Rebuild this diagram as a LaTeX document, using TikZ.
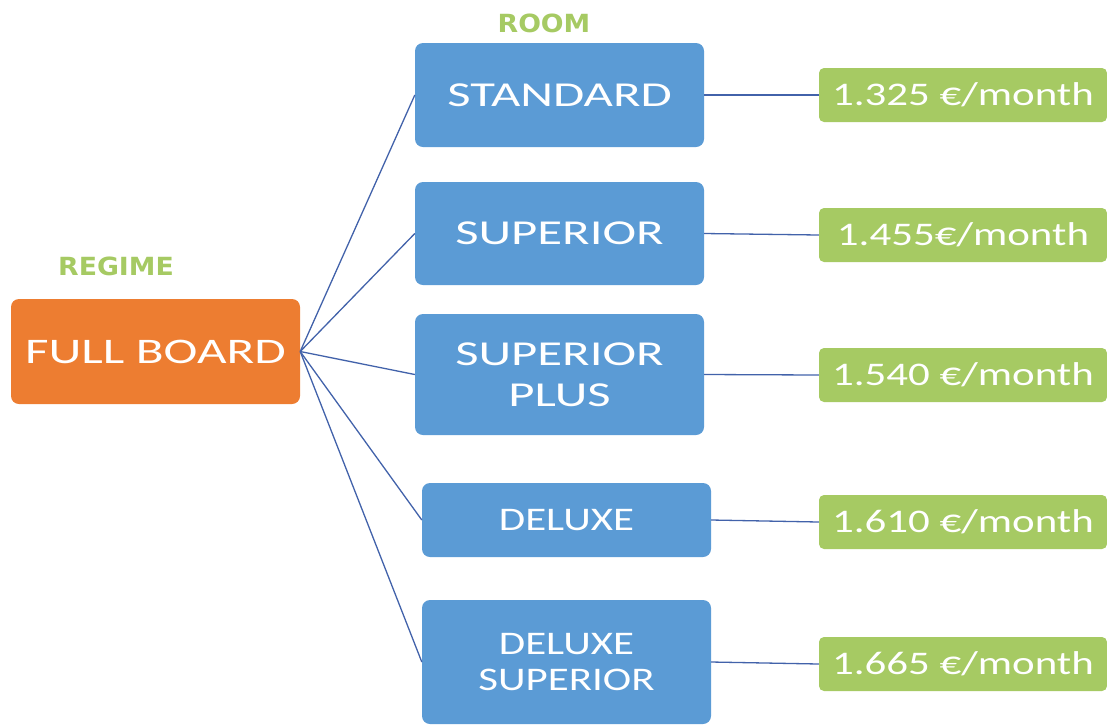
\documentclass[tikz,border=0pt]{standalone}
\usepackage{fontspec}
\setmainfont{Carlito}[FakeStretch=1.3]
\newfontfamily\widefont{Carlito}[FakeStretch=1.45]
\newfontfamily\regimefont{Carlito}[FakeStretch=1.42]
\newfontfamily\labelfont{DejaVu Sans}[FakeStretch=1.07]
\definecolor{cOrange}{HTML}{ED7D31}
\definecolor{cBlue}{HTML}{5B9BD5}
\definecolor{cGreen}{HTML}{A6CA63}
\definecolor{cLine}{HTML}{4262AA}
\begin{document}
\begin{tikzpicture}[x=1pt,y=-1pt,
  boxbase/.style={rounded corners=8pt, inner sep=0pt, text=white, align=center},
  regimebox/.style={boxbase, fill=cOrange, minimum width=289pt, minimum height=105pt, font=\regimefont\fontsize{36}{40}\selectfont},
  roombox/.style={boxbase, fill=cBlue, minimum width=289pt, font=\widefont\fontsize{35}{41}\selectfont},
  deluxebox/.style={boxbase, fill=cBlue, minimum width=289pt, font=\fontsize{33}{36}\selectfont},
  pricebox/.style={boxbase, rounded corners=5pt, fill=cGreen, minimum width=288pt, minimum height=54pt, font=\fontsize{33}{36}\selectfont},
  headlabel/.style={text=cGreen, font=\labelfont\bfseries\fontsize{25}{28}\selectfont, inner sep=0pt},
  link/.style={draw=cLine, line width=1.3pt}
]
\useasboundingbox (0,0) rectangle (1107,724);
\node[headlabel] (lregime) at (116,266) {REGIME};
\node[headlabel] (lroom) at (544,23) {ROOM};
\node[regimebox] (fb) at (155.5,351.5) {FULL BOARD};
\node[roombox, minimum height=104pt] (std) at (559.5,95) {STANDARD};
\node[roombox, minimum height=103pt] (sup) at (559.5,233.5) {SUPERIOR};
\node[roombox, minimum height=121pt] (sp) at (559.5,374.5) {SUPERIOR\\PLUS};
\node[deluxebox, minimum height=74pt] (dlx) at (566.5,520) {DELUXE};
\node[deluxebox, minimum height=124pt] (dsp) at (566.5,662) {DELUXE\\SUPERIOR};
\node[pricebox] (p1) at (963,95) {1.325 €/month};
\node[pricebox] (p2) at (963,235) {1.455€/month};
\node[pricebox] (p3) at (963,375) {1.540 €/month};
\node[pricebox] (p4) at (963,522) {1.610 €/month};
\node[pricebox] (p5) at (963,664) {1.665 €/month};
\foreach \r in {std,sup,sp,dlx,dsp} \draw[link] (fb.east) -- (\r.west);
\draw[link] (std.east) -- (p1.west);
\draw[link] (sup.east) -- (p2.west);
\draw[link] (sp.east) -- (p3.west);
\draw[link] (dlx.east) -- (p4.west);
\draw[link] (dsp.east) -- (p5.west);
\end{tikzpicture}
\end{document}
